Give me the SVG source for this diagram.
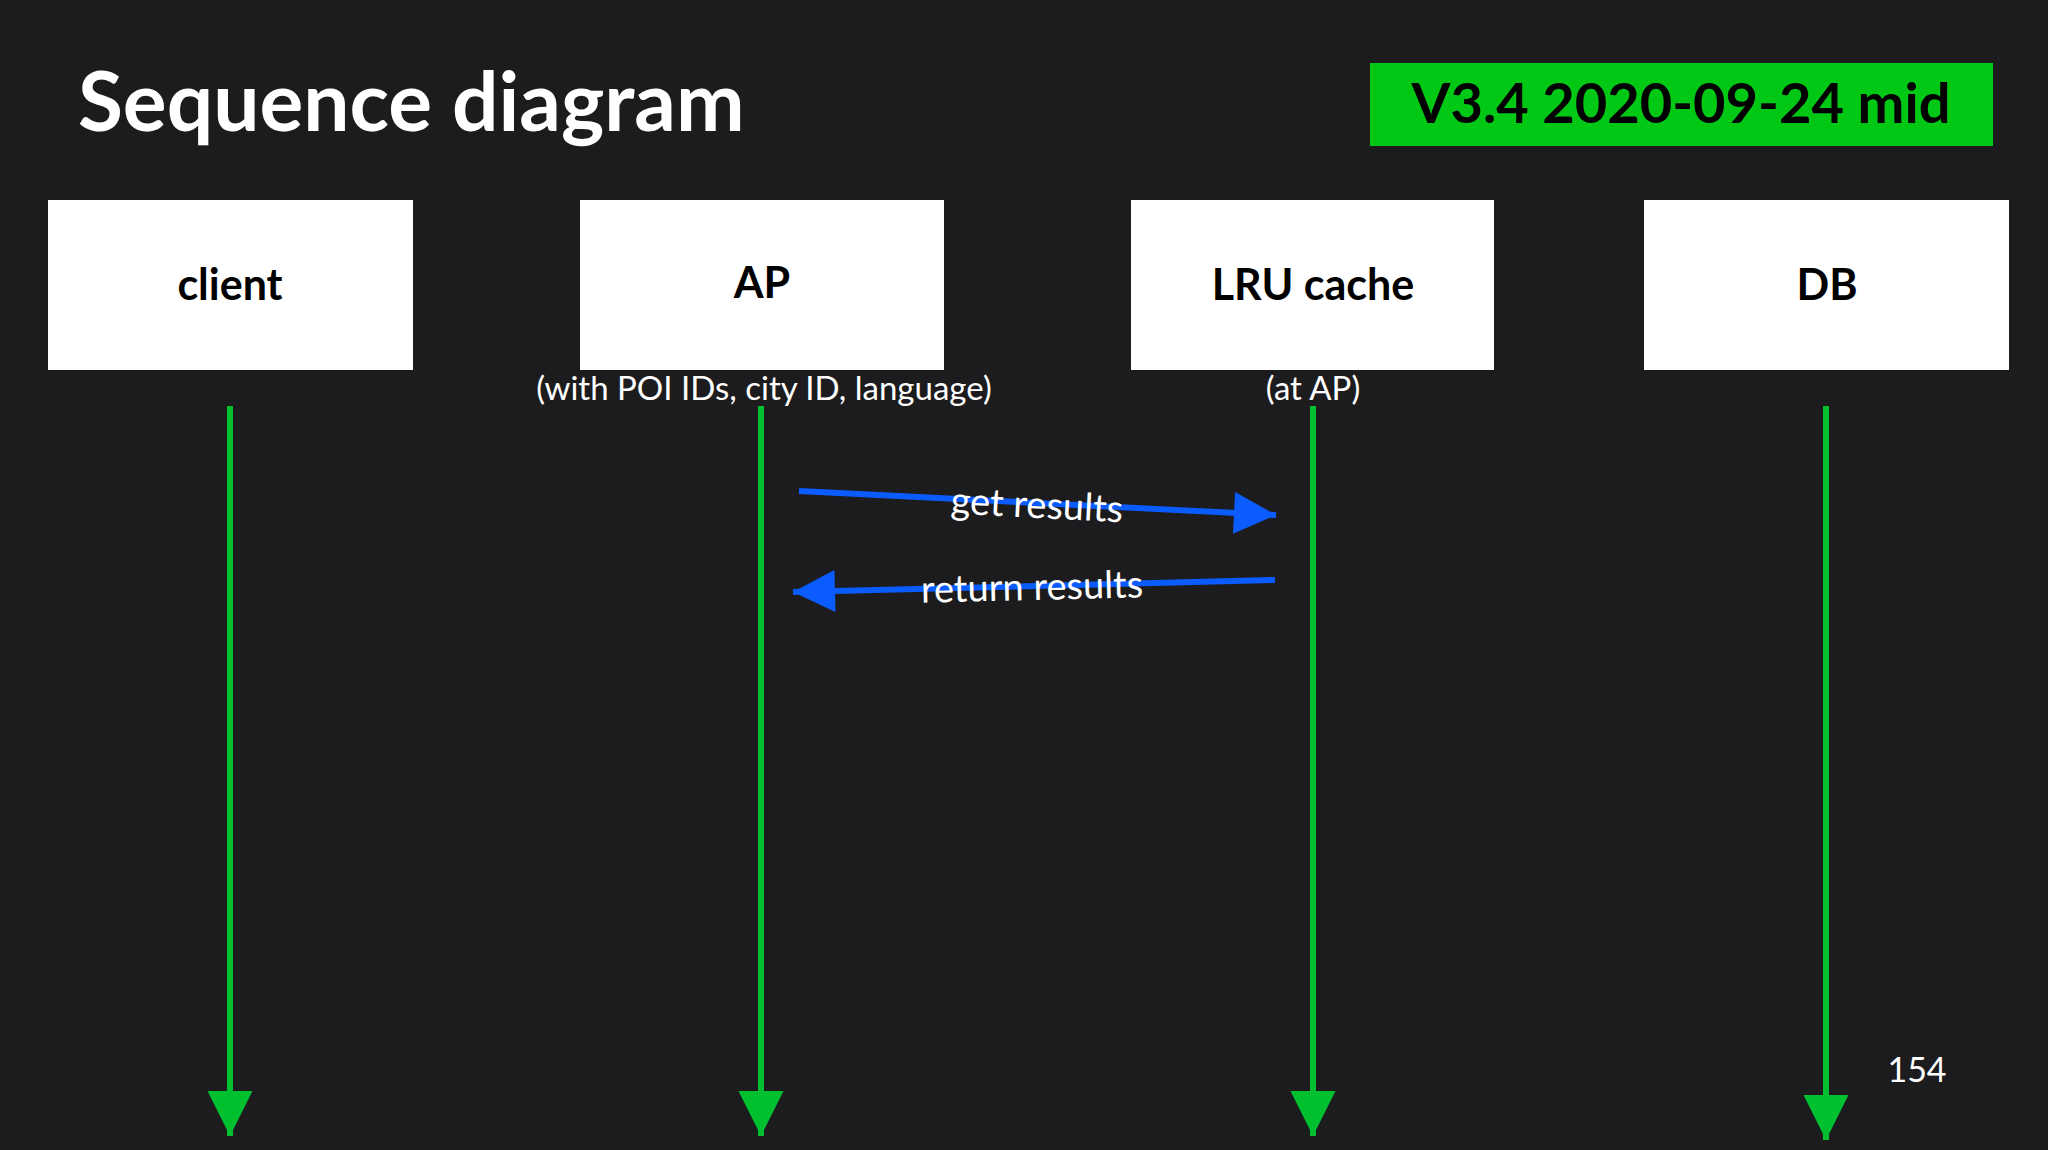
<svg xmlns="http://www.w3.org/2000/svg" width="2048" height="1150" viewBox="0 0 2048 1150">
<defs>
<style>
.box{fill:#fff}
.bl{font-family:Lato,"Open Sans",sans-serif;font-weight:bold;font-size:43px;fill:#000;text-anchor:middle}
.sub{font-family:Lato,"Open Sans",sans-serif;font-size:33px;fill:#fff;text-anchor:middle}
.life{stroke:#00c030;stroke-width:6;fill:none}
.msg{stroke:#0a5cff;stroke-width:6;fill:none}
.ml{font-family:Lato,"Open Sans",sans-serif;font-size:38px;fill:#fff;text-anchor:middle}
</style>
<marker id="ga" viewBox="0 0 10 10" refX="10" refY="5" markerWidth="7.5" markerHeight="11" markerUnits="strokeWidth" orient="auto"><path d="M0,0L10,5L0,10z" fill="#00c030"/></marker>
<marker id="ba" viewBox="0 0 10 10" refX="10" refY="5" markerWidth="11" markerHeight="7" markerUnits="strokeWidth" orient="auto"><path d="M0,0L10,5L0,10z" fill="#0a5cff"/></marker>
</defs>
<rect width="2048" height="1150" fill="#1c1c1e"/>
<text x="78" y="131" font-family="Lato,'Open Sans',sans-serif" font-weight="bold" font-size="82" fill="#fff">Sequence diagram</text>
<rect x="1370" y="63" width="623" height="83" fill="#00c814"/>
<text x="1681" y="123" font-family="Lato,'Open Sans',sans-serif" font-weight="bold" font-size="56" fill="#000" text-anchor="middle">V3.4 2020-09-24 mid</text>
<g id="client"><rect class="box" x="48" y="200" width="365" height="170"/><text class="bl" x="230" y="300">client</text></g>
<g id="ap"><rect class="box" x="580" y="200" width="364" height="170"/><text class="bl" x="762" y="298">AP</text><text class="sub" x="764" y="400">(with POI IDs, city ID, language)</text></g>
<g id="lru"><rect class="box" x="1131" y="200" width="363" height="170"/><text class="bl" x="1313" y="300">LRU cache</text><text class="sub" x="1313" y="400">(at AP)</text></g>
<g id="db"><rect class="box" x="1644" y="200" width="365" height="170"/><text class="bl" x="1827" y="300">DB</text></g>
<g id="connectors">
<line class="life" x1="230" y1="406" x2="230" y2="1136" marker-end="url(#ga)"/>
<line class="life" x1="761" y1="406" x2="761" y2="1136" marker-end="url(#ga)"/>
<line class="life" x1="1313" y1="406" x2="1313" y2="1136" marker-end="url(#ga)"/>
<line class="life" x1="1826" y1="406" x2="1826" y2="1140" marker-end="url(#ga)"/>
<line class="msg" x1="799" y1="491" x2="1276" y2="515" marker-end="url(#ba)"/>
<line class="msg" x1="1275" y1="580" x2="793" y2="592" marker-end="url(#ba)"/>
<text class="ml" x="1037" y="518" transform="rotate(2.9 1037 505)">get results</text>
<text class="ml" x="1032" y="600" transform="rotate(-1.4 1032 588)">return results</text>
</g>
<text x="1917" y="1082" font-family="Lato,'Open Sans',sans-serif" font-size="34" fill="#fff" text-anchor="middle">154</text>
</svg>
